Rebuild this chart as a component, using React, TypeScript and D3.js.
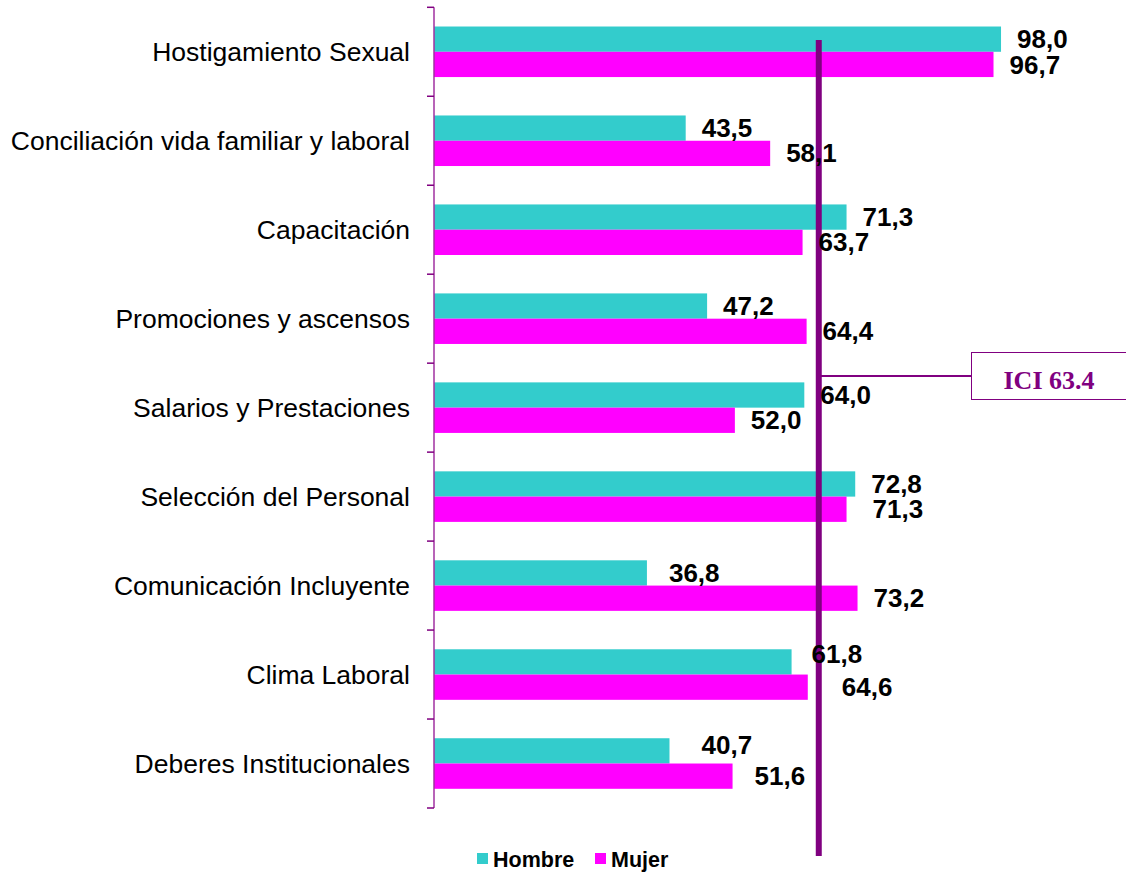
import React, { useEffect, useRef } from 'react';
import * as d3 from 'd3';

const categories = [
  'Hostigamiento Sexual',
  'Conciliación vida familiar y laboral',
  'Capacitación',
  'Promociones y ascensos',
  'Salarios y Prestaciones',
  'Selección del Personal',
  'Comunicación Incluyente',
  'Clima Laboral',
  'Deberes Institucionales',
];
const hombre = [98.0, 43.5, 71.3, 47.2, 64.0, 72.8, 36.8, 61.8, 40.7];
const mujer = [96.7, 58.1, 63.7, 64.4, 52.0, 71.3, 73.2, 64.6, 51.6];
const seriesNames = ['Hombre', 'Mujer'];
const seriesColors = ['#33CCCC', '#FF00FF'];
const iciValue = 63.4;
const iciMarkerAt = 66.5; // where the marker line was drawn in the original

// manual label shifts, like the hand-moved labels in the original
const labelNudge: Record<string, [number, number]> = {
  '1-5': [10, 0],
  '0-6': [6, 0],
  '0-7': [4, -8],
  '1-7': [18, 0],
  '0-8': [16, -6],
  '1-8': [6, 0],
};

const W = 1126;
const H = 872;

export default function App() {
  const ref = useRef<SVGSVGElement>(null);

  useEffect(() => {
    const svg = d3.select(ref.current);
    svg.selectAll('*').remove();

    const x = d3.scaleLinear().domain([0, 100]).range([434, 1012.6]);
    const y = d3.scaleBand().domain(categories).range([7.3, 808]);
    const inner = d3.scaleBand().domain(seriesNames).range([0, y.bandwidth()]).paddingOuter(0.76).paddingInner(0);

    const fmt = (v: number) => v.toFixed(1).replace('.', ',');
    const series = [hombre, mujer];

    // bars
    series.forEach((vals, si) => {
      svg.append('g')
        .selectAll('rect')
        .data(vals)
        .enter()
        .append('rect')
        .attr('x', x(0))
        .attr('y', (d, i) => (y(categories[i]) as number) + (inner(seriesNames[si]) as number))
        .attr('width', d => x(d) - x(0))
        .attr('height', inner.bandwidth())
        .attr('fill', seriesColors[si]);
    });

    // axis
    svg.append('line')
      .attr('x1', x(0)).attr('x2', x(0))
      .attr('y1', y.range()[0]).attr('y2', y.range()[1])
      .attr('stroke', '#a030a0').attr('stroke-width', 1.5);
    const tickYs = categories.map(c => y(c) as number).concat([y.range()[1]]);
    svg.append('g').selectAll('line').data(tickYs).enter().append('line')
      .attr('x1', x(0) - 7).attr('x2', x(0))
      .attr('y1', d => d).attr('y2', d => d)
      .attr('stroke', '#800080').attr('stroke-width', 1.5);

    // category labels
    svg.append('g').selectAll('text').data(categories).enter().append('text')
      .attr('x', 410)
      .attr('y', d => (y(d) as number) + y.bandwidth() / 2)
      .attr('dy', '0.35em')
      .attr('text-anchor', 'end')
      .attr('font-family', '"Liberation Sans", Arial, sans-serif')
      .attr('font-size', 26.5)
      .attr('fill', '#000')
      .text(d => d);

    // ICI marker
    svg.append('line')
      .attr('x1', x(iciMarkerAt)).attr('x2', x(iciMarkerAt))
      .attr('y1', 40).attr('y2', 856)
      .attr('stroke', '#800080').attr('stroke-width', 6);

    // value labels
    series.forEach((vals, si) => {
      svg.append('g').selectAll('text').data(vals).enter().append('text')
        .attr('x', (d, i) => x(d) + 16 + (labelNudge[`${si}-${i}`]?.[0] ?? 0))
        .attr('y', (d, i) => (y(categories[i]) as number) + (inner(seriesNames[si]) as number) + inner.bandwidth() / 2 + (labelNudge[`${si}-${i}`]?.[1] ?? 0))
        .attr('dy', '0.35em')
        .attr('font-family', '"Liberation Sans", Arial, sans-serif')
        .attr('font-weight', 'bold')
        .attr('font-size', 26)
        .attr('fill', '#000')
        .text(d => fmt(d));
    });

    // ICI callout
    svg.append('line')
      .attr('x1', x(iciMarkerAt)).attr('x2', 971)
      .attr('y1', 376).attr('y2', 376)
      .attr('stroke', '#800080').attr('stroke-width', 2);
    svg.append('rect')
      .attr('x', 971.5).attr('y', 352.5).attr('width', 170).attr('height', 47)
      .attr('fill', '#fff').attr('stroke', '#800080').attr('stroke-width', 1);
    svg.append('text')
      .attr('x', 1049).attr('y', 389)
      .attr('text-anchor', 'middle')
      .attr('font-family', '"Liberation Serif", "Times New Roman", serif')
      .attr('font-weight', 'bold')
      .attr('font-size', 26)
      .attr('fill', '#800080')
      .text(`ICI ${iciValue.toFixed(1)}`);

    // legend
    const legendX = [477, 595];
    const lg = svg.append('g');
    seriesNames.forEach((name, i) => {
      lg.append('rect')
        .attr('x', legendX[i]).attr('y', 853).attr('width', 11).attr('height', 11)
        .attr('fill', seriesColors[i]);
      lg.append('text')
        .attr('x', legendX[i] + 16).attr('y', 867)
        .attr('font-family', '"Liberation Sans", Arial, sans-serif')
        .attr('font-weight', 'bold')
        .attr('font-size', 21.5)
        .attr('fill', '#000')
        .text(name);
    });
  }, []);

  return (
    <div style={{ position: 'absolute', left: 0, top: 0 }}>
      <svg ref={ref} width={W} height={H} style={{ display: 'block', background: '#fff' }} />
    </div>
  );
}
